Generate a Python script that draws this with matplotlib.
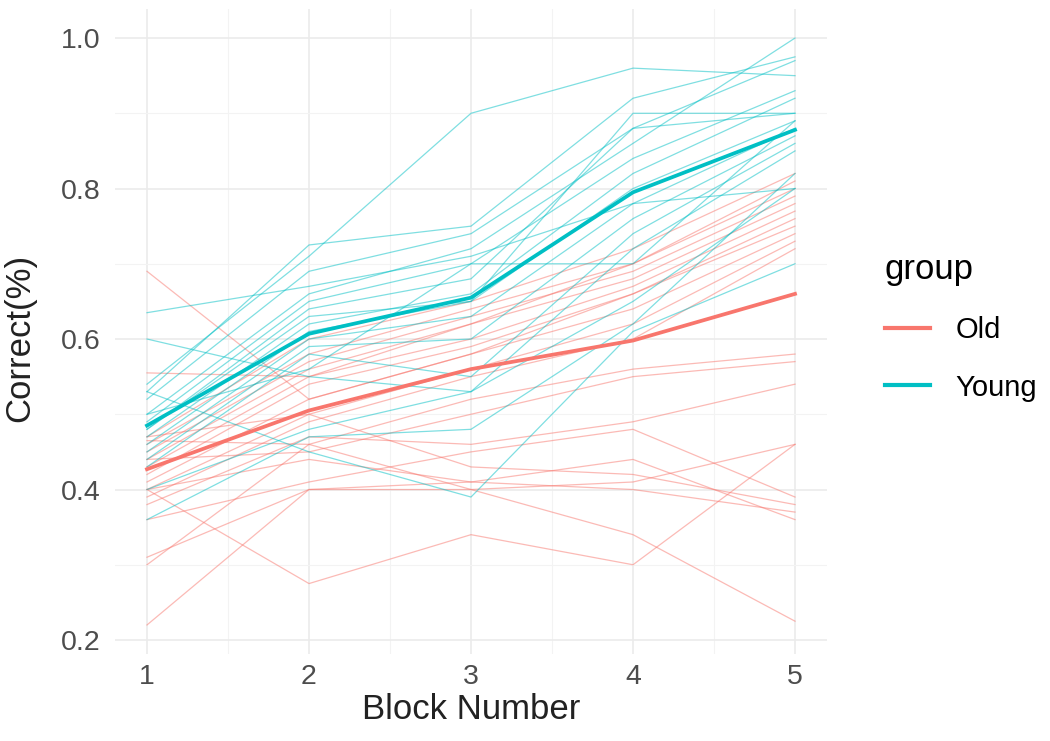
import matplotlib
matplotlib.use("Agg")
import matplotlib.pyplot as plt
import numpy as np
from matplotlib.ticker import MultipleLocator

plt.rcParams['font.family'] = ['Liberation Sans', 'DejaVu Sans']

blocks = [1, 2, 3, 4, 5]

# per-subject accuracy, young group
young = [
    [0.635, 0.67, 0.71, 0.78, 0.80],
    [0.60, 0.55, 0.53, 0.65, 0.80],
    [0.54, 0.71, 0.90, 0.96, 0.95],
    [0.53, 0.725, 0.75, 0.92, 0.975],
    [0.52, 0.69, 0.74, 0.88, 0.97],
    [0.50, 0.66, 0.72, 0.86, 1.00],
    [0.49, 0.65, 0.70, 0.84, 0.93],
    [0.48, 0.64, 0.68, 0.88, 0.90],
    [0.47, 0.62, 0.66, 0.82, 0.92],
    [0.46, 0.61, 0.65, 0.80, 0.89],
    [0.45, 0.60, 0.63, 0.78, 0.88],
    [0.44, 0.59, 0.60, 0.76, 0.87],
    [0.43, 0.58, 0.55, 0.74, 0.86],
    [0.40, 0.48, 0.53, 0.72, 0.85],
    [0.36, 0.47, 0.48, 0.62, 0.82],
    [0.53, 0.45, 0.39, 0.61, 0.70],
    [0.50, 0.56, 0.70, 0.70, 0.89],
    [0.48, 0.63, 0.65, 0.90, 0.90],
]

# per-subject accuracy, old group
old = [
    [0.69, 0.52, 0.58, 0.66, 0.75],
    [0.555, 0.55, 0.62, 0.70, 0.81],
    [0.47, 0.60, 0.65, 0.72, 0.82],
    [0.46, 0.58, 0.64, 0.70, 0.80],
    [0.45, 0.57, 0.63, 0.69, 0.79],
    [0.44, 0.56, 0.62, 0.68, 0.78],
    [0.43, 0.55, 0.60, 0.67, 0.77],
    [0.42, 0.54, 0.59, 0.66, 0.76],
    [0.41, 0.52, 0.58, 0.64, 0.74],
    [0.40, 0.50, 0.56, 0.62, 0.73],
    [0.39, 0.49, 0.55, 0.60, 0.72],
    [0.465, 0.46, 0.52, 0.56, 0.58],
    [0.44, 0.45, 0.50, 0.55, 0.57],
    [0.38, 0.47, 0.46, 0.49, 0.54],
    [0.36, 0.41, 0.45, 0.48, 0.39],
    [0.31, 0.40, 0.40, 0.41, 0.46],
    [0.30, 0.46, 0.40, 0.34, 0.225],
    [0.40, 0.275, 0.34, 0.30, 0.46],
    [0.22, 0.40, 0.41, 0.40, 0.37],
    [0.40, 0.44, 0.41, 0.44, 0.36],
    [0.47, 0.50, 0.43, 0.42, 0.38],
]

# group means (bold lines)
young_mean = [0.485, 0.607, 0.655, 0.795, 0.878]
old_mean = [0.427, 0.505, 0.56, 0.598, 0.66]

OLD_C = '#F8766D'
YOUNG_C = '#00BFC4'

W, H = 1050, 741
fig = plt.figure(figsize=(W / 100, H / 100), dpi=100)
# panel in pixels: x 114.6..827.4, y 8.7..654.3
ax = fig.add_axes([114.6 / W, 1 - 654.3 / H, 712.8 / W, 645.6 / H])

for row in old:
    ax.plot(blocks, row, color=OLD_C, lw=0.9, alpha=0.5)
for row in young:
    ax.plot(blocks, row, color=YOUNG_C, lw=0.9, alpha=0.5)

ax.plot(blocks, old_mean, color=OLD_C, lw=2.7, label='Old')
ax.plot(blocks, young_mean, color=YOUNG_C, lw=2.7, label='Young')

ax.set_xlim(0.8, 5.2)
ax.set_ylim(0.181, 1.039)
ax.xaxis.set_major_locator(MultipleLocator(1))
ax.xaxis.set_minor_locator(MultipleLocator(0.5))
ax.yaxis.set_major_locator(MultipleLocator(0.2))
ax.yaxis.set_minor_locator(MultipleLocator(0.1))
ax.yaxis.set_major_formatter(plt.FuncFormatter(lambda v, p: f'{v:.1f}'))

ax.grid(True, which='major', color='#EBEBEB', lw=1.2)
ax.grid(True, which='minor', color='#F3F3F3', lw=0.8)
ax.set_axisbelow(True)
for s in ax.spines.values():
    s.set_visible(False)
ax.tick_params(which='both', length=0, labelsize=20.5, colors='#4D4D4D')
ax.tick_params(axis='x', pad=7)
ax.tick_params(axis='y', pad=10)

ax.set_xlabel('Block Number', fontsize=25, color='#222222')
ax.set_ylabel('Correct(%)', fontsize=25, color='#222222')
ax.xaxis.set_label_coords(0.5, -0.06)
ax.yaxis.set_label_coords(-0.11, 0.49)

leg = fig.legend(handles=ax.get_lines()[-2:], title='group', loc='upper left',
                 bbox_to_anchor=(885 / W, 1 - 253 / H),
                 frameon=False, fontsize=21, title_fontsize=25,
                 handlelength=1.55, labelspacing=1.02, handletextpad=0.86,
                 borderaxespad=0, borderpad=0)
leg._legend_box.align = 'left'
for h in leg.get_lines():
    h.set_linewidth(3)

fig.savefig('out.png', dpi=100)
